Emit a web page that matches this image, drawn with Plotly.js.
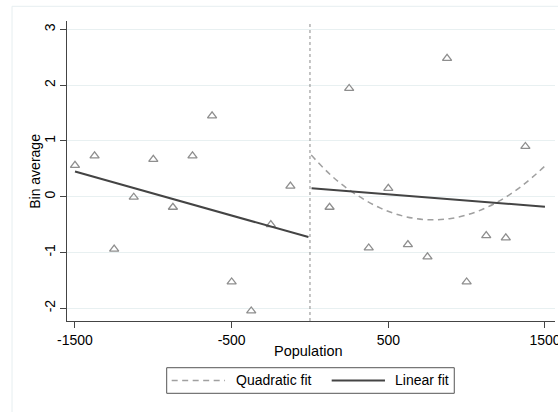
<!DOCTYPE html>
<html>
<head>
<meta charset="utf-8">
<script src="https://cdn.plot.ly/plotly-3.0.1.min.js"></script>
<style>
html,body{margin:0;padding:0;background:#fff;}
#chart{width:558px;height:412px;}
</style>
</head>
<body>
<div id="chart"></div>
<script>
// Binned averages (left and right of cutoff)
var leftX = [-1500,-1375,-1250,-1125,-1000,-875,-750,-625,-500,-375,-250,-125];
var leftY = [0.56,0.73,-0.94,-0.01,0.67,-0.19,0.73,1.45,-1.53,-2.05,-0.50,0.19];
var rightX = [125,250,375,500,625,750,875,1000,1125,1250,1375];
var rightY = [-0.19,1.94,-0.92,0.15,-0.86,-1.08,2.48,-1.53,-0.70,-0.74,0.90];

// Linear fit endpoints
var linLeftX = [-1500,-10];
var linLeftY = [0.45,-0.725];
var linRightX = [10,1500];
var linRightY = [0.15,-0.18];

// Quadratic fit (right side)
var quadX = [8,150,300,450,600,750,900,1050,1200,1350,1500];
var quadY = [0.745,0.343,0.027,-0.205,-0.352,-0.414,-0.391,-0.284,-0.091,0.186,0.549];

// Cutoff
var cutoffX = [0,0];
var cutoffY = [-2.23,3.15];

var yTicks = [-2,-1,0,1,2,3];
var xTicks = [-1500,-500,500,1500];

var legendLabels = ['Quadratic fit','Linear fit'];

var quadColor = '#a0a0a0', linColor = '#444444', markColor = '#8e8e8e';
var quadDash = '6px,4.5px';

var markerStyle = {symbol:'triangle-up-open', size:8, color:markColor, line:{width:1.3,color:markColor}};

var traces = [
  {x:leftX, y:leftY, type:'scatter', mode:'markers', marker:markerStyle, showlegend:false, hoverinfo:'skip'},
  {x:rightX, y:rightY, type:'scatter', mode:'markers', marker:markerStyle, showlegend:false, hoverinfo:'skip'},
  {x:quadX, y:quadY, type:'scatter', mode:'lines', name:legendLabels[0], line:{color:quadColor, width:1.5, dash:quadDash, shape:'spline'}, showlegend:false},
  {x:linLeftX, y:linLeftY, type:'scatter', mode:'lines', name:legendLabels[1], line:{color:linColor, width:2}, showlegend:false},
  {x:linRightX, y:linRightY, type:'scatter', mode:'lines', name:legendLabels[1], line:{color:linColor, width:2}, showlegend:false},
  {x:cutoffX, y:cutoffY, type:'scatter', mode:'lines', line:{color:'#8a8a8a', width:1, dash:'dot'}, showlegend:false, hoverinfo:'skip'}
];

var ff = 'Liberation Sans, Arial, sans-serif';

var layout = {
  width:558, height:412,
  margin:{l:67, r:3, t:21, b:91, pad:0},
  paper_bgcolor:'#ffffff', plot_bgcolor:'#ffffff',
  font:{family:ff, color:'#000'},
  showlegend:false,
  xaxis:{
    range:[-1551,1564], tickvals:xTicks, ticktext:xTicks.map(String),
    showgrid:false, zeroline:false, showline:true, linecolor:'#444', linewidth:1,
    ticks:'outside', ticklen:6, tickcolor:'#444', tickfont:{size:14, family:ff},
    ticklabeloverflow:'allow'
  },
  yaxis:{
    range:[-2.23,3.15], tickvals:yTicks, ticktext:yTicks.map(String),
    showgrid:true, gridcolor:'#e8f0f1', gridwidth:1, zeroline:false,
    showline:true, linecolor:'#444', linewidth:1,
    ticks:'outside', ticklen:6, tickcolor:'#444', tickangle:-90,
    tickfont:{size:14, family:ff}, ticklabelstandoff:-1
  },
  annotations:[
    {text:'Population', xref:'paper', yref:'paper', x:0.495, y:-0.1, xanchor:'center', yanchor:'middle', showarrow:false, font:{size:14.5, family:ff, color:'#000'}},
    {text:'Bin average', xref:'paper', yref:'paper', x:-0.066, y:0.5, xanchor:'center', yanchor:'middle', textangle:-90, showarrow:false, font:{size:14, family:ff, color:'#000'}},
    {text:legendLabels[0], xref:'paper', yref:'paper', x:0.3428, y:-0.198, xanchor:'left', yanchor:'middle', showarrow:false, font:{size:14, family:ff, color:'#000'}},
    {text:legendLabels[1], xref:'paper', yref:'paper', x:0.6686, y:-0.198, xanchor:'left', yanchor:'middle', showarrow:false, font:{size:14, family:ff, color:'#000'}}
  ],
  shapes:[
    {type:'rect', xref:'paper', yref:'paper', x0:-0.1127, x1:1.2, y0:-0.5, y1:1.049,
     line:{color:'#e6eef0', width:1}, fillcolor:'rgba(0,0,0,0)', layer:'below'},
    {type:'rect', xref:'paper', yref:'paper', x0:0.2043, x1:0.7936, y0:-0.241, y1:-0.1557,
     line:{color:'#555', width:1}, fillcolor:'#fff'},
    {type:'line', xref:'paper', yref:'paper', x0:0.2145, x1:0.3238, y0:-0.198, y1:-0.198,
     line:{color:quadColor, width:1.5, dash:quadDash}},
    {type:'line', xref:'paper', yref:'paper', x0:0.5424, x1:0.6516, y0:-0.198, y1:-0.198,
     line:{color:linColor, width:2}}
  ]
};

Plotly.newPlot('chart', traces, layout, {displayModeBar:false, staticPlot:true});
</script>
</body>
</html>
